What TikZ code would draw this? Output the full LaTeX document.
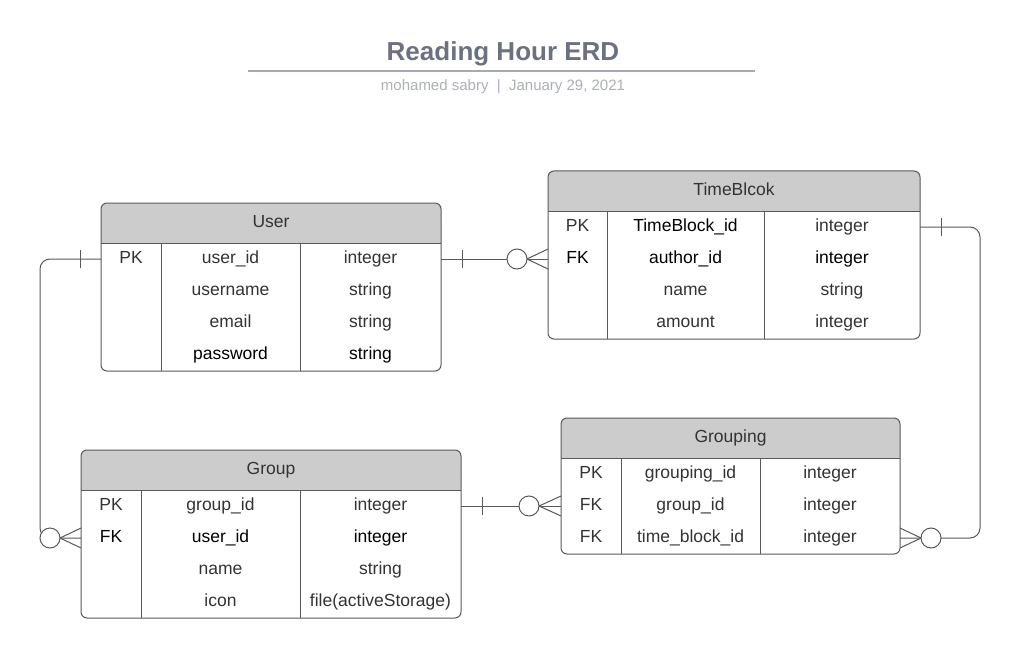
\documentclass[tikz,border=0pt]{standalone}
\usepackage{fontspec}
\setmainfont{Liberation Sans}
\usetikzlibrary{positioning}

\definecolor{linegray}{HTML}{595959}
\definecolor{headgray}{HTML}{CCCCCC}
\definecolor{textgray}{HTML}{333333}
\definecolor{titlegray}{HTML}{6B7180}
\definecolor{subgray}{HTML}{ABAFB8}
\definecolor{rulegray}{HTML}{A5A9B2}

\tikzset{
  cell/.style={inner sep=0pt, outer sep=0pt, minimum height=32pt,
    text height=12.5pt, text depth=3.5pt, text=textgray,
    font=\fontsize{17.5}{20}\selectfont},
  head/.style={cell, minimum height=40pt, fill=headgray, rounded corners=6pt},
  frame/.style={draw=linegray, line width=1pt, rounded corners=6pt},
  sep/.style={draw=linegray, line width=1pt},
  rel/.style={draw=linegray, line width=1pt, rounded corners=10pt},
  zero/.style={draw=linegray, line width=1pt, fill=white},
}

\begin{document}
\begin{tikzpicture}[x=1pt, y=-1pt]
  \useasboundingbox (0,0) rectangle (1024,663);

  \node[font=\bfseries\fontsize{26}{30}\selectfont, text=titlegray] (title) at (503,54) {Reading Hour ERD};
  \draw[rulegray, line width=2pt] (248,71) -- (755,71);
  \node[font=\fontsize{15}{18}\selectfont, text=subgray] (byline) at (503,87) {mohamed sabry\ \ |\ \ January 29, 2021};

  % User
  \node[head, minimum width=340pt, anchor=north west] (user-h) at (101,203) {User};
  \fill[headgray] (user-h.south west) rectangle ++(10,-20) (user-h.south east) rectangle ++(-10,-20);
  \node[cell, minimum width=60pt, anchor=north west] (user-k1) at (user-h.south west) {PK};
  \node[cell, minimum width=139pt, right=0pt of user-k1] (user-n1) {user\_id};
  \node[cell, minimum width=141pt, right=0pt of user-n1] (user-t1) {integer};
  \node[cell, minimum width=60pt, below=0pt of user-k1] (user-k2) {};
  \node[cell, minimum width=139pt, right=0pt of user-k2] (user-n2) {username};
  \node[cell, minimum width=141pt, right=0pt of user-n2] (user-t2) {string};
  \node[cell, minimum width=60pt, below=0pt of user-k2] (user-k3) {};
  \node[cell, minimum width=139pt, right=0pt of user-k3] (user-n3) {email};
  \node[cell, minimum width=141pt, right=0pt of user-n3] (user-t3) {string};
  \node[cell, minimum width=60pt, below=0pt of user-k3] (user-k4) {};
  \node[cell, minimum width=139pt, right=0pt of user-k4, text=black] (user-n4) {password};
  \node[cell, minimum width=141pt, right=0pt of user-n4, text=black] (user-t4) {string};
  \draw[frame] (user-h.north west) rectangle (user-t4.south east);
  \draw[sep] (user-h.south west) -- (user-h.south east);
  \draw[sep] (user-k1.north east) -- (user-k4.south east);
  \draw[sep] (user-n1.north east) -- (user-n4.south east);

  % TimeBlcok
  \node[head, minimum width=372pt, anchor=north west] (tb-h) at (548,171) {TimeBlcok};
  \fill[headgray] (tb-h.south west) rectangle ++(10,-20) (tb-h.south east) rectangle ++(-10,-20);
  \node[cell, minimum width=59pt, anchor=north west] (tb-k1) at (tb-h.south west) {PK};
  \node[cell, minimum width=157pt, right=0pt of tb-k1, text=black] (tb-n1) {TimeBlock\_id};
  \node[cell, minimum width=156pt, right=0pt of tb-n1] (tb-t1) {integer};
  \node[cell, minimum width=59pt, below=0pt of tb-k1, text=black] (tb-k2) {FK};
  \node[cell, minimum width=157pt, right=0pt of tb-k2, text=black] (tb-n2) {author\_id};
  \node[cell, minimum width=156pt, right=0pt of tb-n2, text=black] (tb-t2) {integer};
  \node[cell, minimum width=59pt, below=0pt of tb-k2] (tb-k3) {};
  \node[cell, minimum width=157pt, right=0pt of tb-k3] (tb-n3) {name};
  \node[cell, minimum width=156pt, right=0pt of tb-n3] (tb-t3) {string};
  \node[cell, minimum width=59pt, below=0pt of tb-k3] (tb-k4) {};
  \node[cell, minimum width=157pt, right=0pt of tb-k4] (tb-n4) {amount};
  \node[cell, minimum width=156pt, right=0pt of tb-n4] (tb-t4) {integer};
  \draw[frame] (tb-h.north west) rectangle (tb-t4.south east);
  \draw[sep] (tb-h.south west) -- (tb-h.south east);
  \draw[sep] (tb-k1.north east) -- (tb-k4.south east);
  \draw[sep] (tb-n1.north east) -- (tb-n4.south east);

  % Group
  \node[head, minimum width=380pt, anchor=north west] (group-h) at (81,450) {Group};
  \fill[headgray] (group-h.south west) rectangle ++(10,-20) (group-h.south east) rectangle ++(-10,-20);
  \node[cell, minimum width=60pt, anchor=north west] (group-k1) at (group-h.south west) {PK};
  \node[cell, minimum width=159pt, right=0pt of group-k1] (group-n1) {group\_id};
  \node[cell, minimum width=161pt, right=0pt of group-n1] (group-t1) {integer};
  \node[cell, minimum width=60pt, below=0pt of group-k1, text=black] (group-k2) {FK};
  \node[cell, minimum width=159pt, right=0pt of group-k2, text=black] (group-n2) {user\_id};
  \node[cell, minimum width=161pt, right=0pt of group-n2, text=black] (group-t2) {integer};
  \node[cell, minimum width=60pt, below=0pt of group-k2] (group-k3) {};
  \node[cell, minimum width=159pt, right=0pt of group-k3] (group-n3) {name};
  \node[cell, minimum width=161pt, right=0pt of group-n3] (group-t3) {string};
  \node[cell, minimum width=60pt, below=0pt of group-k3] (group-k4) {};
  \node[cell, minimum width=159pt, right=0pt of group-k4] (group-n4) {icon};
  \node[cell, minimum width=161pt, right=0pt of group-n4] (group-t4) {file(activeStorage)};
  \draw[frame] (group-h.north west) rectangle (group-t4.south east);
  \draw[sep] (group-h.south west) -- (group-h.south east);
  \draw[sep] (group-k1.north east) -- (group-k4.south east);
  \draw[sep] (group-n1.north east) -- (group-n4.south east);

  % Grouping
  \node[head, minimum width=339pt, anchor=north west] (gp-h) at (561,418) {Grouping};
  \fill[headgray] (gp-h.south west) rectangle ++(10,-20) (gp-h.south east) rectangle ++(-10,-20);
  \node[cell, minimum width=60pt, anchor=north west] (gp-k1) at (gp-h.south west) {PK};
  \node[cell, minimum width=139pt, right=0pt of gp-k1] (gp-n1) {grouping\_id};
  \node[cell, minimum width=140pt, right=0pt of gp-n1] (gp-t1) {integer};
  \node[cell, minimum width=60pt, below=0pt of gp-k1] (gp-k2) {FK};
  \node[cell, minimum width=139pt, right=0pt of gp-k2] (gp-n2) {group\_id};
  \node[cell, minimum width=140pt, right=0pt of gp-n2] (gp-t2) {integer};
  \node[cell, minimum width=60pt, below=0pt of gp-k2] (gp-k3) {FK};
  \node[cell, minimum width=139pt, right=0pt of gp-k3] (gp-n3) {time\_block\_id};
  \node[cell, minimum width=140pt, right=0pt of gp-n3] (gp-t3) {integer};
  \draw[frame] (gp-h.north west) rectangle (gp-t3.south east);
  \draw[sep] (gp-h.south west) -- (gp-h.south east);
  \draw[sep] (gp-k1.north east) -- (gp-k3.south east);
  \draw[sep] (gp-n1.north east) -- (gp-n3.south east);

  % User -- TimeBlcok
  \draw[rel] (user-t1.east) -- (tb-k2.west);
  \draw[sep] (user-t1.east) ++(21,-9) -- ++(0,18);
  \draw[zero] (tb-k2.west) ++(-31,0) circle (10pt);
  \draw[sep] ([xshift=-21pt]tb-k2.west) -- ([yshift=10pt]tb-k2.west)
    ([xshift=-21pt]tb-k2.west) -- ([yshift=-10pt]tb-k2.west);

  % User -- Group
  \draw[rel] (user-k1.west) -- ++(-61,0) |- (group-k2.west);
  \draw[sep] (user-k1.west) ++(-21,-9) -- ++(0,18);
  \draw[zero] (group-k2.west) ++(-31,0) circle (10pt);
  \draw[sep] ([xshift=-21pt]group-k2.west) -- ([yshift=10pt]group-k2.west)
    ([xshift=-21pt]group-k2.west) -- ([yshift=-10pt]group-k2.west);

  % TimeBlcok -- Grouping
  \draw[rel] (tb-t1.east) -- ++(60,0) |- (gp-t3.east);
  \draw[sep] (tb-t1.east) ++(21,-9) -- ++(0,18);
  \draw[zero] (gp-t3.east) ++(31,0) circle (10pt);
  \draw[sep] ([xshift=21pt]gp-t3.east) -- ([yshift=10pt]gp-t3.east)
    ([xshift=21pt]gp-t3.east) -- ([yshift=-10pt]gp-t3.east);

  % Group -- Grouping
  \draw[rel] (group-t1.east) -- (gp-k2.west);
  \draw[sep] (group-t1.east) ++(21,-9) -- ++(0,18);
  \draw[zero] (gp-k2.west) ++(-32,0) circle (10pt);
  \draw[sep] ([xshift=-22pt]gp-k2.west) -- ([yshift=10pt]gp-k2.west)
    ([xshift=-22pt]gp-k2.west) -- ([yshift=-10pt]gp-k2.west);
\end{tikzpicture}
\end{document}
